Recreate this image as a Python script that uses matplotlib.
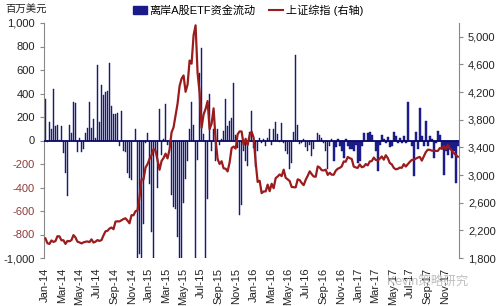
import matplotlib
matplotlib.use('Agg')
import matplotlib.pyplot as plt
import matplotlib.dates as mdates
from matplotlib.lines import Line2D
from matplotlib.patches import Patch
import pandas as pd

plt.rcParams['font.family'] = ['Liberation Sans', 'Noto Sans CJK SC', 'DejaVu Sans']

# weekly offshore A-share ETF flows (USD mn), one list per year
flow_2014 = [350, -10, 160, 95, 440, 120, 135, 5, 120, -105,
             -280, -470, 135, 65, 330, 320, -95, 20, -95, -75,
             65, 105, 330, 105, 180, 20, 640, 160, 470, 390,
             410, 425, 660, 290, 225, 225, 230, -50, 255, -90,
             -95, -280, -320, -335, 0, 100, -1000, -970, -1000, -710,
             -20, 65]
flow_2015 = [-370, -780, -1000, -105, -400, 265, -120, 10, 310, -35,
             -35, -460, -570, -585, -825, -1000, -1000, -530, -330, -175,
             95, 330, 135, -1000, -170, 575, 790, 55, -1000, -500,
             395, -90, 95, -175, 95, -35, 10, 85, 350, 120,
             165, 190, 490, 50, -60, -630, -545, -90, -175, -220,
             75, 250]
flow_2016 = [-60, -225, -90, 20, -20, 10, -50, 20, 95, -35,
             95, 160, 55, -10, 150, -20, -90, -115, -240, -190,
             75, 730, 135, -30, -20, 10, -55, -90, -35, -135,
             -75, -5, 65, 50, 20, -20, -90, -240, -50, 10,
             -175, -55, 10, -50, -90, -145, 10, -50, -75, -75,
             -90, -35, -190]
flow_2017 = [-175, -50, 65, 0, 65, 75, 50, 0, -90, -260,
             -35, 50, 10, -20, 30, -55, -50, 75, 35, -20,
             20, -20, 35, -20, 330, -5, -50, -300, 75, -75,
             280, 35, -50, 165, -50, 35, 10, -145, -20, 85,
             50, -60, -290, -90, -120, -75, -145, -90, -360, -50]

# Shanghai Composite, weekly close
sh_2014 = [2083, 2013, 2004, 2054, 2033, 2044, 2115, 2113, 2056, 2057,
           2004, 2047, 2042, 2058, 2131, 2098, 2036, 2026, 2011, 2026,
           2035, 2039, 2030, 2070, 2024, 2036, 2059, 2047, 2059, 2127,
           2186, 2194, 2226, 2241, 2217, 2326, 2331, 2329, 2347, 2364,
           2374, 2341, 2302, 2420, 2418, 2478, 2487, 2683, 2938, 2938,
           3108, 3158]
sh_2015 = [3235, 3285, 3376, 3351, 3210, 3076, 3204, 3247, 3310, 3241,
           3372, 3617, 3691, 3863, 4034, 4287, 4394, 4441, 4205, 4308,
           4657, 4611, 5023, 5166, 4478, 4192, 3686, 3877, 3957, 4070,
           3663, 3744, 3965, 3507, 3232, 3160, 3200, 3097, 3092, 3053,
           3183, 3391, 3412, 3383, 3590, 3632, 3630, 3436, 3525, 3434,
           3578, 3628]
sh_2016 = [3539, 3186, 2901, 2917, 2738, 2763, 2763, 2861, 2767, 2874,
           2810, 2955, 2979, 3009, 2985, 3078, 2960, 2938, 2913, 2827,
           2825, 2822, 2938, 2927, 2885, 2854, 2932, 2988, 3054, 3013,
           2979, 2976, 3125, 3108, 3070, 3067, 3078, 3002, 3033, 3005,
           3005, 3063, 3091, 3104, 3125, 3197, 3193, 3262, 3244, 3232,
           3123, 3110, 3104]
sh_2017 = [3154, 3113, 3123, 3159, 3140, 3197, 3202, 3253, 3218, 3212,
           3237, 3269, 3223, 3287, 3246, 3173, 3155, 3104, 3083, 3090,
           3108, 3105, 3158, 3123, 3157, 3192, 3218, 3222, 3238, 3253,
           3262, 3209, 3269, 3332, 3367, 3365, 3353, 3353, 3349, 3349,
           3391, 3378, 3416, 3372, 3433, 3383, 3353, 3318, 3289, 3266]

flows = flow_2014 + flow_2015 + flow_2016 + flow_2017
shcomp = sh_2014 + sh_2015 + sh_2016 + sh_2017
dates = pd.date_range('2014-01-03', periods=len(flows), freq='W-FRI')

fig = plt.figure(figsize=(4.99, 3.06), dpi=100)
ax = fig.add_axes([44/499, 48/306, 415/499, 235/306])
ax2 = ax.twinx()

ax.bar(dates, flows, width=5.4, color='#20209a', edgecolor='#0e0e6a', linewidth=0.3, zorder=2)
ax.axhline(0, color='#0a0a6a', lw=1.3, zorder=3)
ax2.plot(dates, shcomp, color='#9b1c1c', lw=1.6, zorder=4)

ax.set_ylim(-1000, 1000)
ax.set_yticks(range(-1000, 1001, 200))
ax.yaxis.set_major_formatter(plt.FuncFormatter(lambda v, _: '{:,.0f}'.format(v)))
ax2.set_ylim(1800, 5200)
ax2.set_yticks(range(1800, 5001, 400))
ax2.yaxis.set_major_formatter(plt.FuncFormatter(lambda v, _: '{:,.0f}'.format(v)))

ax.set_xlim(dates[0] - pd.Timedelta(days=5), dates[-1] + pd.Timedelta(days=4))
ax.xaxis.set_major_locator(mdates.MonthLocator(bymonth=[1, 3, 5, 7, 9, 11]))
ax.xaxis.set_major_formatter(mdates.DateFormatter('%b-%y'))
ax.tick_params(axis='x', length=0, labelsize=8, labelrotation=90, pad=7, colors='#222222')
ax.tick_params(axis='y', length=3, labelsize=8, colors='#888888', labelcolor='#222222')
ax2.tick_params(axis='y', length=3, labelsize=8, colors='#888888', labelcolor='#222222')

for a in (ax, ax2):
    for s in ('top', 'bottom'):
        a.spines[s].set_visible(False)
ax.spines['right'].set_visible(False)
ax2.spines['left'].set_visible(False)
ax.spines['left'].set_color('#888888')
ax2.spines['right'].set_color('#888888')

for lab, v in zip(ax.get_yticklabels(), ax.get_yticks()):
    if -1000 < v < 0:
        lab.set_color('#8e3b3b')

fig.text(5/499, 1 - 10/306, '百万美元', fontsize=7.5, va='center', ha='left', color='#222222')

handles = [Patch(facecolor='#1a1a8a', edgecolor='#1a1a8a'),
           Line2D([0], [0], color='#9b1c1c', lw=1.5)]
fig.legend(handles, ['离岸A股ETF资金流动', '上证综指 (右轴)'], loc='center',
           bbox_to_anchor=(248/499, 1 - 10/306), ncol=2, frameon=False, fontsize=8,
           handlelength=1.3, handleheight=0.7, handletextpad=0.2, columnspacing=1.2)

fig.text(428/499, 1 - 283/306, 'Kevin策略研究', fontsize=9, ha='center', va='center',
         color='#b0b0b0', alpha=0.8)

fig.savefig('out.png', dpi=100)
